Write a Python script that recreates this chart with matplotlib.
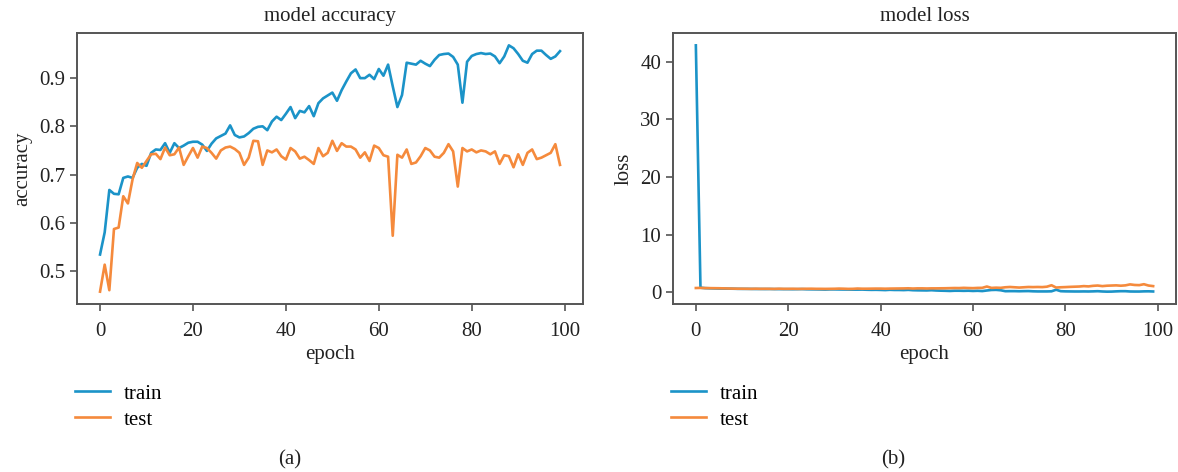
import numpy as np
import matplotlib
matplotlib.use('Agg')
import matplotlib.pyplot as plt

plt.rcParams['font.family'] = ['Liberation Serif', 'DejaVu Serif']

# training history (100 epochs)
train_acc = [0.534, 0.580, 0.668, 0.660, 0.659, 0.693, 0.696, 0.693, 0.714, 0.722,
             0.718, 0.745, 0.752, 0.751, 0.765, 0.745, 0.765, 0.755, 0.760, 0.766,
             0.768, 0.768, 0.762, 0.749, 0.764, 0.775, 0.780, 0.785, 0.802, 0.782,
             0.777, 0.779, 0.786, 0.795, 0.799, 0.800, 0.792, 0.810, 0.820, 0.813,
             0.826, 0.840, 0.817, 0.832, 0.829, 0.842, 0.821, 0.848, 0.858, 0.864,
             0.870, 0.853, 0.875, 0.893, 0.910, 0.918, 0.900, 0.900, 0.907, 0.898,
             0.919, 0.905, 0.928, 0.883, 0.840, 0.865, 0.932, 0.930, 0.928, 0.936,
             0.930, 0.925, 0.938, 0.948, 0.950, 0.951, 0.944, 0.928, 0.849, 0.934,
             0.946, 0.950, 0.952, 0.950, 0.951, 0.945, 0.931, 0.945, 0.968, 0.962,
             0.950, 0.936, 0.932, 0.950, 0.957, 0.957, 0.948, 0.940, 0.945, 0.956]

test_acc = [0.457, 0.513, 0.460, 0.587, 0.590, 0.655, 0.640, 0.690, 0.724, 0.714,
            0.728, 0.742, 0.743, 0.732, 0.756, 0.740, 0.742, 0.756, 0.720, 0.738,
            0.755, 0.735, 0.758, 0.755, 0.745, 0.733, 0.750, 0.756, 0.758, 0.753,
            0.745, 0.720, 0.735, 0.770, 0.769, 0.720, 0.750, 0.746, 0.752, 0.738,
            0.731, 0.755, 0.748, 0.733, 0.737, 0.730, 0.722, 0.755, 0.738, 0.745,
            0.770, 0.749, 0.765, 0.758, 0.758, 0.752, 0.735, 0.746, 0.728, 0.760,
            0.755, 0.740, 0.737, 0.573, 0.741, 0.735, 0.752, 0.722, 0.725, 0.738,
            0.755, 0.750, 0.737, 0.735, 0.745, 0.763, 0.748, 0.675, 0.755, 0.748,
            0.752, 0.746, 0.750, 0.748, 0.742, 0.748, 0.722, 0.740, 0.738, 0.715,
            0.742, 0.720, 0.745, 0.752, 0.732, 0.735, 0.740, 0.745, 0.763, 0.720]

train_loss = [42.8, 0.78, 0.70, 0.67, 0.65, 0.63, 0.62, 0.61, 0.60, 0.58,
              0.57, 0.57, 0.56, 0.55, 0.55, 0.54, 0.55, 0.53, 0.53, 0.52,
              0.52, 0.51, 0.52, 0.53, 0.50, 0.49, 0.48, 0.47, 0.45, 0.48,
              0.48, 0.47, 0.46, 0.45, 0.44, 0.44, 0.45, 0.42, 0.40, 0.41,
              0.39, 0.36, 0.41, 0.38, 0.38, 0.36, 0.40, 0.34, 0.32, 0.31,
              0.30, 0.34, 0.29, 0.26, 0.24, 0.21, 0.25, 0.25, 0.23, 0.25,
              0.21, 0.24, 0.19, 0.29, 0.38, 0.40, 0.33, 0.17, 0.18, 0.18,
              0.16, 0.18, 0.19, 0.15, 0.13, 0.13, 0.13, 0.15, 0.42, 0.17,
              0.14, 0.13, 0.12, 0.12, 0.13, 0.12, 0.14, 0.17, 0.12, 0.09,
              0.10, 0.14, 0.17, 0.17, 0.12, 0.11, 0.11, 0.14, 0.15, 0.12]

test_loss = [0.72, 0.74, 0.71, 0.70, 0.69, 0.68, 0.66, 0.64, 0.62, 0.60,
             0.60, 0.59, 0.58, 0.60, 0.58, 0.59, 0.58, 0.57, 0.60, 0.58,
             0.58, 0.59, 0.57, 0.58, 0.59, 0.60, 0.58, 0.58, 0.57, 0.58,
             0.59, 0.62, 0.60, 0.57, 0.58, 0.63, 0.60, 0.60, 0.61, 0.62,
             0.62, 0.60, 0.62, 0.63, 0.64, 0.65, 0.67, 0.63, 0.66, 0.66,
             0.64, 0.66, 0.66, 0.67, 0.68, 0.70, 0.72, 0.71, 0.75, 0.72,
             0.70, 0.74, 0.75, 0.98, 0.74, 0.78, 0.75, 0.85, 0.90, 0.85,
             0.80, 0.85, 0.90, 0.88, 0.90, 0.88, 0.95, 1.20, 0.80, 0.85,
             0.88, 0.92, 0.95, 0.98, 1.05, 1.00, 1.10, 1.15, 1.05, 1.12,
             1.15, 1.18, 1.12, 1.18, 1.35, 1.25, 1.22, 1.38, 1.15, 1.05]

epochs = np.arange(len(train_acc))

BLUE = '#1b93c8'
ORANGE = '#f58a3c'
SPINE = '#555555'
TEXT = '#222222'
FS = 15


def style_axes(ax):
    for s in ax.spines.values():
        s.set_color(SPINE)
        s.set_linewidth(1.4)
    ax.tick_params(axis='x', pad=8)
    ax.tick_params(colors=SPINE, labelcolor=TEXT, labelsize=FS, width=1.2, length=5)
    ax.set_xticks([0, 20, 40, 60, 80, 100])


def draw(ax, train, test, title, ylabel, caption, cap_x):
    l1, = ax.plot(epochs, train, color=BLUE, lw=1.9, label='train')
    l2, = ax.plot(epochs, test, color=ORANGE, lw=1.9, label='test')
    ax.set_title(title, fontsize=FS, color=TEXT, pad=9)
    ax.set_xlabel('epoch', fontsize=FS, color=TEXT, labelpad=3)
    ax.set_ylabel(ylabel, fontsize=FS, color=TEXT, labelpad=5)
    style_axes(ax)
    ax.legend(handles=[l1, l2], loc='upper left', bbox_to_anchor=(-0.02, -0.265),
              frameon=False, fontsize=FS, handlelength=1.65, handletextpad=0.7,
              labelspacing=0.3, borderaxespad=0)
    ax.text(cap_x, -0.576, caption, transform=ax.transAxes, ha='center', va='center',
            fontsize=FS, color=TEXT)


fig = plt.figure(figsize=(11.78, 4.72), dpi=100)
ax1 = fig.add_axes([0.0654, 0.356, 0.4295, 0.574])
ax2 = fig.add_axes([0.5713, 0.356, 0.4270, 0.574])

draw(ax1, train_acc, test_acc, 'model accuracy', 'accuracy', '(a)', 0.421)
draw(ax2, train_loss, test_loss, 'model loss', 'loss', '(b)', 0.437)
ax1.set_yticks([0.5, 0.6, 0.7, 0.8, 0.9])
ax2.set_yticks([0, 10, 20, 30, 40])

fig.savefig('out.png', dpi=100)
